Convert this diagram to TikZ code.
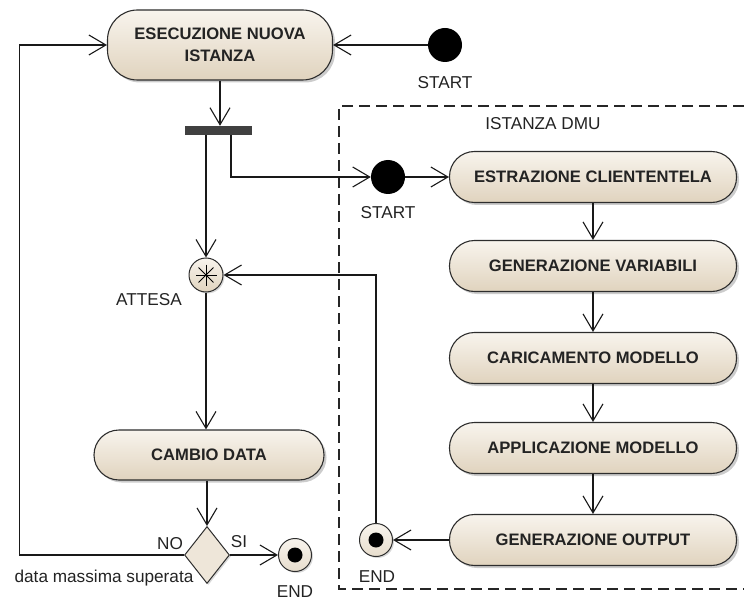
\documentclass[tikz,border=0pt]{standalone}
\usepackage{fontspec}
\setmainfont{Liberation Sans}
\usetikzlibrary{arrows.meta,shapes.geometric,shadows}
\definecolor{txt}{RGB}{35,35,35}
\definecolor{topc}{RGB}{248,244,237}
\definecolor{botc}{RGB}{224,211,190}
\definecolor{edge}{RGB}{45,45,45}
\begin{document}
\begin{tikzpicture}[x=1pt,y=-1pt,
  act/.style={draw=edge, line width=1.1pt, rounded corners=25pt, top color=topc, bottom color=botc,
    drop shadow={shadow xshift=2.5pt, shadow yshift=-2.5pt, opacity=0.4},
    minimum width=287pt, minimum height=51pt, inner sep=2pt, align=center,
    text=txt, font=\fontsize{16.6}{22}\selectfont\bfseries},
  lbl/.style={text=txt, font=\fontsize{17.2}{19}\selectfont, inner sep=0pt},
  startc/.style={circle, fill=black, minimum size=34pt, inner sep=0pt},
  endc/.style={circle, draw=edge, line width=1pt, top color=topc, bottom color=botc!70!topc,
    drop shadow={shadow xshift=1.5pt, shadow yshift=-1.5pt, opacity=0.3},
    minimum size=33pt, inner sep=0pt},
  dot/.style={circle, fill=black, minimum size=15pt, inner sep=0pt},
  forkbar/.style={rectangle, fill=black!75, minimum width=67pt, minimum height=9pt, inner sep=0pt},
  decision/.style={diamond, draw=edge, line width=1pt, fill={rgb,255:red,238;green,230;blue,217},
    drop shadow={shadow xshift=1.5pt, shadow yshift=-1.5pt, opacity=0.3},
    minimum width=45pt, minimum height=57pt, inner sep=0pt},
  arr/.style={draw=black!90, line width=1.1pt, -{Straight Barb[length=17pt,width=20pt,line width=1.1pt]}},
  frame/.style={draw=black!85, line width=1.1pt, dash pattern=on 11pt off 6pt}
]
\useasboundingbox (0,0) rectangle (744,604);

% dashed frame
\draw[frame] (744,106) -- (339,106) -- (339,589) -- (744,589);
\node[lbl] (dmu) at (543,124) {ISTANZA DMU};

% main flow
\node[act, minimum width=225pt, minimum height=70pt, rounded corners=30pt] (exe) at (220,45) {ESECUZIONE NUOVA\\ISTANZA};
\node[startc] (s1) at (445,45) {};
\node[lbl] (s1l) at (445,83) {START};
\node[forkbar] (fork) at (218.5,130.5) {};

\node[circle, draw=edge, line width=1pt, top color=topc, bottom color=botc,
  drop shadow={shadow xshift=1.5pt, shadow yshift=-1.5pt, opacity=0.3},
  minimum size=34pt, inner sep=0pt] (att) at (206,275) {};
\foreach \a in {0,45,90,135}
  \draw[line width=1pt, black] (att.center) ++(\a:10.5pt) -- ++(\a+180:21pt);
\node[lbl] (attl) at (149,300) {ATTESA};

\node[act, minimum width=230pt, minimum height=50pt] (cd) at (209,455) {CAMBIO DATA};
\node[decision] (dec) at (207,555) {};
\node[lbl] (nol) at (170,544) {NO};
\node[lbl] (sil) at (239,542) {SI};
\node[lbl] (dml) at (104,578) {data massima superata};
\node[endc] (e1) at (295,555) {};
\node[dot] (e1d) at (e1.center) {};
\node[lbl] (e1l) at (295,592) {END};

% DMU instance
\node[startc] (s2) at (388,177) {};
\node[lbl] (s2l) at (388,213) {START};
\node[act] (b1) at (593,177) {ESTRAZIONE CLIENTENTELA};
\node[act] (b2) at (593,266) {GENERAZIONE VARIABILI};
\node[act] (b3) at (593,358) {CARICAMENTO MODELLO};
\node[act] (b4) at (593,448) {APPLICAZIONE MODELLO};
\node[act] (b5) at (593,540) {GENERAZIONE OUTPUT};
\node[endc] (e2) at (376,540) {};
\node[dot] (e2d) at (e2.center) {};
\node[lbl] (e2l) at (377,577) {END};

% connectors
\draw[arr] (s1) -- (exe.east);
\draw[arr] (exe.south) -- (exe.south |- fork.north);
\draw[arr] (fork.south -| att.north) -- (att.north);
\draw[arr] ([xshift=12.5pt]fork.south) |- (s2.west);
\draw[arr] (s2) -- (b1.west);
\draw[arr] (b1) -- (b2);
\draw[arr] (b2) -- (b3);
\draw[arr] (b3) -- (b4);
\draw[arr] (b4) -- (b5);
\draw[arr] (b5.west) -- (e2.east);
\draw[arr] (e2.north) |- (att.east);
\draw[arr] (att.south) -- (att.south |- cd.north);
\draw[arr] (cd.south -| dec.north) -- (dec.north);
\draw[arr] (dec.east) -- (e1.west);
\draw[arr] (dec.west) -- ++(-164.5,0) |- (exe.west);
\end{tikzpicture}
\end{document}
